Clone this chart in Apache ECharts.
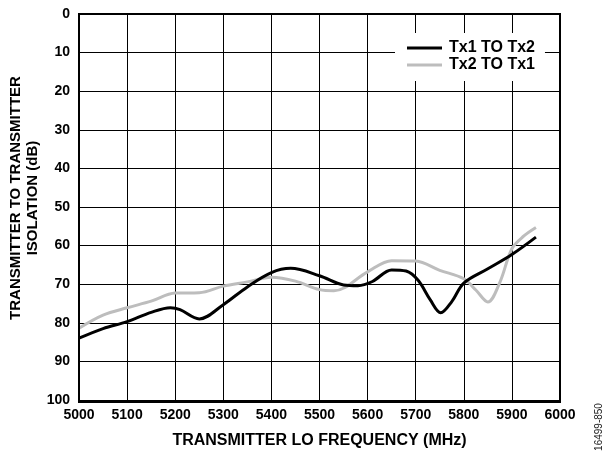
<!DOCTYPE html>
<html>
<head>
<meta charset="utf-8">
<script src="https://cdn.jsdelivr.net/npm/echarts@6/dist/echarts.min.js"></script>
<style>
  html, body { margin: 0; padding: 0; background: #fff; }
  #chart { width: 604px; height: 454px; }
</style>
</head>
<body>
<div id="chart"></div>
<script>
// Tx1 TO Tx2 (black)
const freqTx1 = [5000, 5050, 5100, 5150, 5190, 5210, 5250, 5300, 5350, 5400, 5440, 5500, 5550, 5580, 5610, 5650, 5680, 5705, 5730, 5752, 5775, 5800, 5850, 5900, 5950];
const isoTx1 = [84.0, 81.5, 79.7, 77.3, 76.1, 76.6, 79.0, 75.3, 70.7, 67.0, 65.9, 67.8, 70.2, 70.4, 69.3, 66.3, 66.6, 69.0, 74.0, 77.4, 74.5, 69.7, 66.0, 62.3, 57.8];
// Tx2 TO Tx1 (gray)
const freqTx2 = [5000, 5050, 5100, 5150, 5200, 5250, 5300, 5350, 5400, 5450, 5500, 5530, 5600, 5650, 5700, 5750, 5800, 5825, 5850, 5875, 5900, 5925, 5950];
const isoTx2 = [81.4, 78.0, 76.1, 74.4, 72.3, 72.2, 70.5, 69.4, 68.2, 69.2, 71.4, 71.7, 66.8, 63.9, 64.0, 66.4, 68.6, 71.5, 74.6, 69.5, 60.8, 57.5, 55.3];

const seriesNames = ["Tx1 TO Tx2", "Tx2 TO Tx1"];

function pairs(xs, ys) {
  return xs.map((x, i) => [x, ys[i]]);
}

const chart = echarts.init(document.getElementById("chart"));
const fontFam = "Liberation Sans, Arial, sans-serif";
const boldText = { fontFamily: fontFam, fontWeight: "bold", color: "#000" };

chart.setOption({
  animation: false,
  grid: { left: 79, right: 44, top: 14, bottom: 52, containLabel: false },
  legend: {
    orient: "vertical",
    left: 395,
    top: 33,
    padding: [7, 10, 8, 12],
    backgroundColor: "#fff",
    itemWidth: 35,
    itemHeight: 3,
    itemGap: 1,
    icon: "rect",
    textStyle: Object.assign({ fontSize: 16, padding: [0, 0, 0, 2] }, boldText),
    data: seriesNames
  },
  xAxis: {
    type: "value",
    min: 5000,
    max: 6000,
    interval: 100,
    name: "TRANSMITTER LO FREQUENCY (MHz)",
    nameLocation: "middle",
    nameGap: 33,
    nameTextStyle: Object.assign({ fontSize: 16 }, boldText),
    axisLine: { show: true, lineStyle: { color: "#000", width: 2 } },
    axisTick: { show: false },
    axisLabel: Object.assign({ fontSize: 14, margin: 8, formatter: v => String(v) }, boldText),
    splitLine: { show: true, lineStyle: { color: "#000", width: 1 } }
  },
  yAxis: {
    type: "value",
    inverse: true,
    min: 0,
    max: 100,
    interval: 10,
    axisLine: { show: true, lineStyle: { color: "#000", width: 2 } },
    axisTick: { show: false },
    axisLabel: Object.assign({ fontSize: 14, margin: 9, formatter: v => String(v) }, boldText),
    splitLine: { show: true, lineStyle: { color: "#000", width: 1 } }
  },
  graphic: [
    {
      type: "rect",
      shape: { x: 79, y: 14, width: 481, height: 388 },
      style: { fill: "none", stroke: "#000", lineWidth: 2 },
      silent: true,
      z: 10
    },
    {
      type: "text",
      x: 16,
      y: 198,
      rotation: Math.PI / 2,
      style: { text: "TRANSMITTER TO TRANSMITTER", fontSize: 15, align: "center", verticalAlign: "middle", fill: "#000", fontFamily: fontFam, fontWeight: "bold" }
    },
    {
      type: "text",
      x: 33,
      y: 198,
      rotation: Math.PI / 2,
      style: { text: "ISOLATION (dB)", fontSize: 15, align: "center", verticalAlign: "middle", fill: "#000", fontFamily: fontFam, fontWeight: "bold" }
    },
    {
      type: "text",
      x: 599,
      y: 427,
      rotation: Math.PI / 2,
      style: { text: "16499-850", fontSize: 10, align: "center", verticalAlign: "middle", fill: "#222", fontFamily: fontFam }
    }
  ],
  series: [
    {
      name: seriesNames[0],
      type: "line",
      data: pairs(freqTx1, isoTx1),
      smooth: 0.35,
      showSymbol: false,
      lineStyle: { color: "#000", width: 3 },
      itemStyle: { color: "#000" },
      z: 5
    },
    {
      name: seriesNames[1],
      type: "line",
      data: pairs(freqTx2, isoTx2),
      smooth: 0.35,
      showSymbol: false,
      lineStyle: { color: "#bdbdbd", width: 3 },
      itemStyle: { color: "#bdbdbd" },
      z: 4
    }
  ]
});
</script>
</body>
</html>
